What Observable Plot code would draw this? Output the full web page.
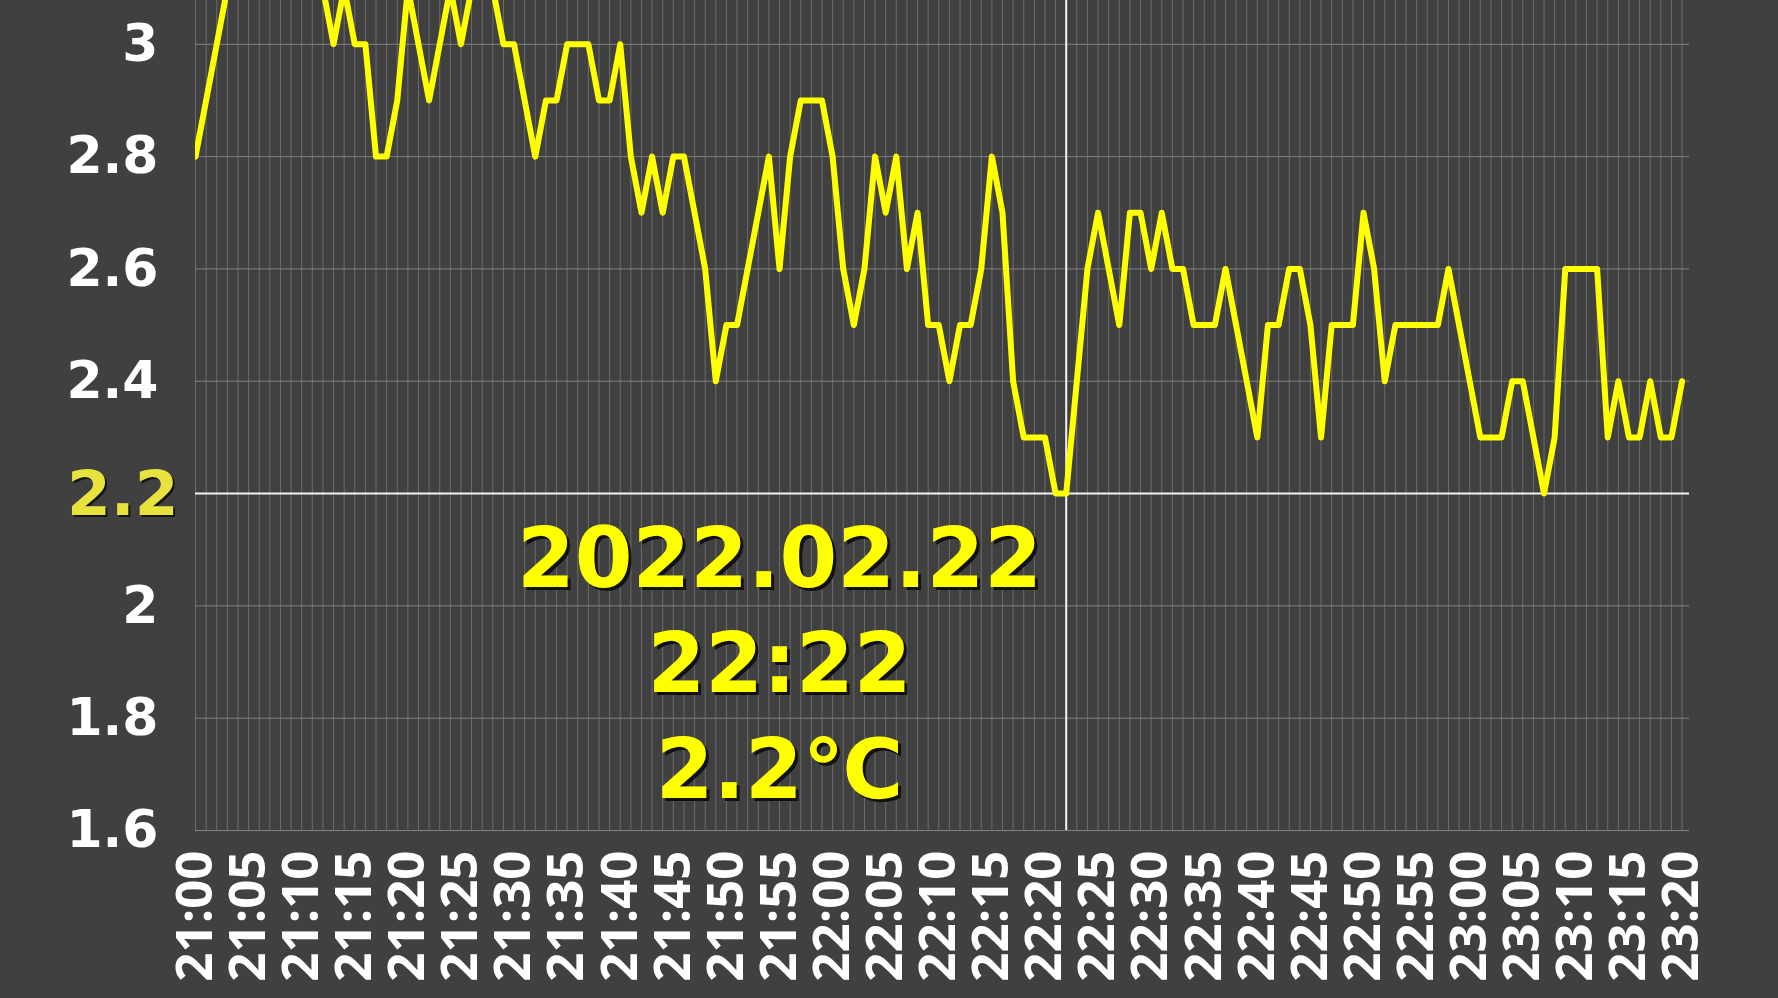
<!DOCTYPE html>
<html><head><meta charset="utf-8">
<script src="https://cdn.jsdelivr.net/npm/d3@7"></script>
<script src="https://cdn.jsdelivr.net/npm/@observablehq/plot@0.6"></script>
<style>html,body{margin:0;padding:0;background:#404040;overflow:hidden}</style>
</head><body><div id="chart"></div>
<script>
// Minute-by-minute temperature readings, 21:00 – 23:20 (UTC used as wall clock)
const startTime = "2022-02-22T21:00:00Z";
const temperatures = [
  2.8, 2.9, 3.0, 3.1, 3.2, 3.2, 3.3, 3.3, 3.2, 3.3, 3.2, 3.2, 3.1, 3.0, 3.1, 3.0, 3.0, 2.8, 2.8, 2.9,
  3.1, 3.0, 2.9, 3.0, 3.1, 3.0, 3.1, 3.2, 3.1, 3.0, 3.0, 2.9, 2.8, 2.9, 2.9, 3.0, 3.0, 3.0, 2.9, 2.9,
  3.0, 2.8, 2.7, 2.8, 2.7, 2.8, 2.8, 2.7, 2.6, 2.4, 2.5, 2.5, 2.6, 2.7, 2.8, 2.6, 2.8, 2.9, 2.9, 2.9,
  2.8, 2.6, 2.5, 2.6, 2.8, 2.7, 2.8, 2.6, 2.7, 2.5, 2.5, 2.4, 2.5, 2.5, 2.6, 2.8, 2.7, 2.4, 2.3, 2.3,
  2.3, 2.2, 2.2, 2.4, 2.6, 2.7, 2.6, 2.5, 2.7, 2.7, 2.6, 2.7, 2.6, 2.6, 2.5, 2.5, 2.5, 2.6, 2.5, 2.4,
  2.3, 2.5, 2.5, 2.6, 2.6, 2.5, 2.3, 2.5, 2.5, 2.5, 2.7, 2.6, 2.4, 2.5, 2.5, 2.5, 2.5, 2.5, 2.6, 2.5,
  2.4, 2.3, 2.3, 2.3, 2.4, 2.4, 2.3, 2.2, 2.3, 2.6, 2.6, 2.6, 2.6, 2.3, 2.4, 2.3, 2.3, 2.4, 2.3, 2.3,
  2.4
];
const yTicks = [1.6, 1.8, 2, 2.2, 2.4, 2.6, 2.8, 3];
const xTickLabels = ["21:00","21:05","21:10","21:15","21:20","21:25","21:30","21:35","21:40","21:45",
  "21:50","21:55","22:00","22:05","22:10","22:15","22:20","22:25","22:30","22:35","22:40","22:45",
  "22:50","22:55","23:00","23:05","23:10","23:15","23:20"];
const highlightDate = "2022.02.22";
const highlightTime = "22:22";
const highlightTemp = 2.2;
const unit = "℃";

const fmt = d3.utcFormat("%H:%M");
const t0 = new Date(startTime);
const data = temperatures.map((v, i) => ({t: d3.utcMinute.offset(t0, i), v}));
const minuteGrid = data.map(d => d.t);
const toTime = s => { const [h, m] = s.split(":").map(Number); return new Date(Date.UTC(2022, 1, 22, h, m)); };
const xTicks = xTickLabels.map(toTime);
const hlTime = toTime(highlightTime);
const xEnd = new Date(+t0 + 140.7 * 60000);

const YEL = "#ffff00";
const FONT = "'DejaVu Sans', sans-serif";
const annText = `${highlightDate}\n${highlightTime}\n${highlightTemp}${unit}`;

const chart = Plot.plot({
  width: 1778, height: 998,
  marginLeft: 195, marginRight: 89, marginTop: 0, marginBottom: 168,
  style: {background: "#404040", color: "#ffffff", fontFamily: FONT, fontWeight: "bold"},
  x: {type: "utc", domain: [t0, xEnd]},
  y: {domain: [1.6, 3.078]},
  marks: [
    Plot.ruleX(minuteGrid, {stroke: "#6c6c6c", strokeWidth: 1}),
    Plot.ruleY(yTicks, {stroke: "#808080", strokeWidth: 1}),
    Plot.ruleX([hlTime], {stroke: "#f2f2f2", strokeWidth: 2}),
    Plot.ruleY([highlightTemp], {stroke: "#f2f2f2", strokeWidth: 2}),
    Plot.line(data, {x: "t", y: "v", stroke: YEL, strokeWidth: 6, strokeLinejoin: "round", clip: true}),
    Plot.axisY(yTicks.filter(d => d !== highlightTemp), {
      tickSize: 0, tickPadding: 37, fontSize: 52, fontWeight: "bold", label: null,
      tickFormat: d => String(d), fontFamily: FONT
    }),
    Plot.text([highlightTemp], {y: d => d, text: d => String(d), frameAnchor: "left", textAnchor: "end",
      dx: -15, dy: 3, fontSize: 63, fontWeight: "bold", fill: "#151515", fontFamily: FONT}),
    Plot.text([highlightTemp], {y: d => d, text: d => String(d), frameAnchor: "left", textAnchor: "end",
      dx: -17, dy: 1, fontSize: 63, fontWeight: "bold", fill: "#e8e23e", fontFamily: FONT}),
    Plot.axisX(xTicks, {
      tickSize: 0, tickPadding: 20, tickRotate: -90, fontSize: 51, fontWeight: "bold", label: null,
      tickFormat: fmt, fontFamily: "'Open Sans', sans-serif"
    }),
    Plot.text([annText], {frameAnchor: "bottom", text: d => d, textAnchor: "middle", lineAnchor: "bottom",
      lineHeight: 1.27, dx: -160, dy: -30, fontSize: 83, fontWeight: "bold", fill: "#111111", fontFamily: FONT}),
    Plot.text([annText], {frameAnchor: "bottom", text: d => d, textAnchor: "middle", lineAnchor: "bottom",
      lineHeight: 1.27, dx: -163, dy: -33, fontSize: 83, fontWeight: "bold", fill: YEL, fontFamily: FONT})
  ]
});
document.getElementById("chart").appendChild(chart);
</script>
</body></html>
